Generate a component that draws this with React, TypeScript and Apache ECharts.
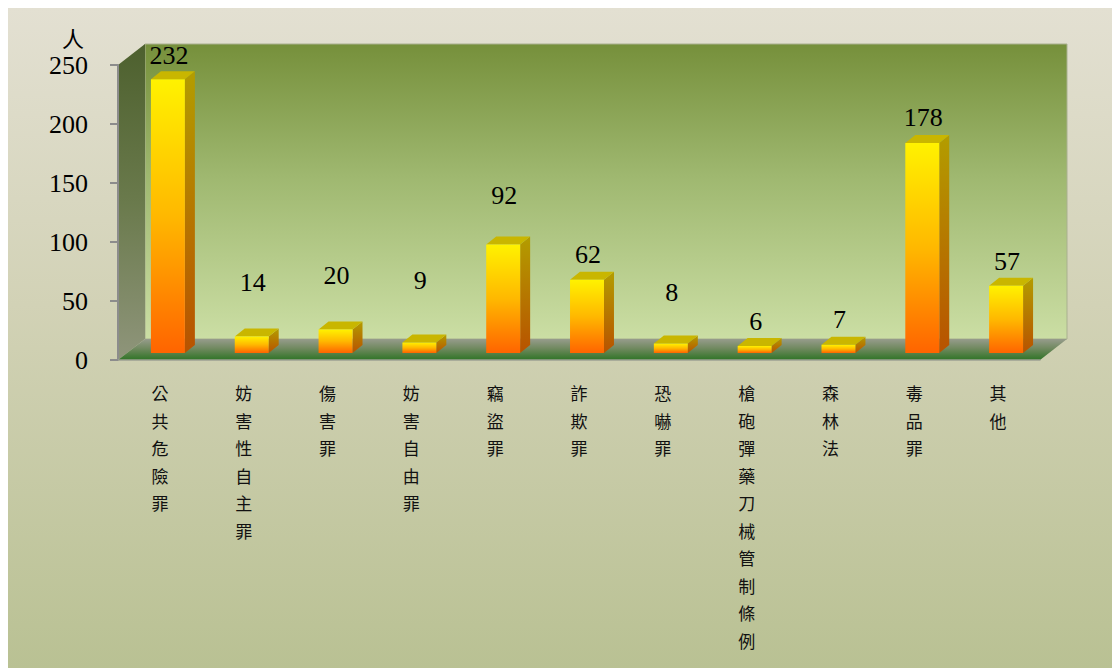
import React, { useEffect, useRef } from "react";
import * as echarts from "echarts";

// ---- data ----
const categories = [
  "公共危險罪",
  "妨害性自主罪",
  "傷害罪",
  "妨害自由罪",
  "竊盜罪",
  "詐欺罪",
  "恐嚇罪",
  "槍砲彈藥刀械管制條例",
  "森林法",
  "毒品罪",
  "其他",
];
const values = [232, 14, 20, 9, 92, 62, 8, 6, 7, 178, 57];
const yTicks = { min: 0, max: 250, interval: 50 };
const unitLabel = "人";

// ---- styling (label distance above each bar's top, px) ----
const labelGap = [24, 54, 54, 62, 49, 25, 51, 24, 25, 25, 24];

const DEPTH_X = 27;
const DEPTH_Y = -21;

export default function App() {
  const ref = useRef<HTMLDivElement>(null);

  useEffect(() => {
    document.documentElement.style.overflow = "hidden";
    document.body.style.overflow = "hidden";
    const chart = echarts.init(ref.current!, undefined, { renderer: "svg" });
    const G = echarts.graphic;

    const option: any = {
      animation: false,
      grid: { left: 110, right: 80, top: 57, bottom: 308, containLabel: false },
      graphic: [
        {
          type: "text",
          left: 54,
          top: 18,
          style: {
            text: unitLabel,
            fontSize: 22,
            fontFamily: "Noto Sans CJK TC",
            fill: "#000",
          },
        },
      ],
      xAxis: {
        type: "category",
        data: categories,
        z: 5,
        axisLine: { show: true, lineStyle: { color: "#9da093", width: 1.5 } },
        axisTick: { show: false },
        axisLabel: {
          interval: 0,
          margin: 19,
          color: "#111",
          fontSize: 17,
          lineHeight: 27.5,
          fontFamily: "Noto Sans CJK TC",
          formatter: (v: string) => v.split("").join("\n"),
        },
      },
      yAxis: {
        type: "value",
        min: yTicks.min,
        max: yTicks.max,
        interval: yTicks.interval,
        z: 5,
        splitLine: { show: false },
        axisLine: { show: true, lineStyle: { color: "#8c8c8c", width: 2 } },
        axisTick: { show: true, length: 8, lineStyle: { color: "#8c8c8c", width: 2 } },
        axisLabel: {
          margin: 30,
          color: "#000",
          fontSize: 26,
          fontFamily: "Liberation Serif, Times New Roman, serif",
        },
      },
      series: [
        {
          type: "custom",
          z: 1,
          silent: true,
          data: [[0, 0]],
          renderItem: (params: any) => {
            const cs = params.coordSys;
            const x = cs.x, y = cs.y, w = cs.width, h = cs.height;
            return {
              type: "group",
              children: [
                {
                  type: "rect",
                  shape: { x: x + DEPTH_X, y: y + DEPTH_Y, width: w, height: h },
                  style: {
                    fill: new G.LinearGradient(0, 0, 0, 1, [
                      { offset: 0, color: "#76903b" },
                      { offset: 0.45, color: "#9fb870" },
                      { offset: 1, color: "#cbdea4" },
                    ]),
                    stroke: "#a9b08f",
                    lineWidth: 1,
                  },
                },
                {
                  type: "polygon",
                  shape: {
                    points: [
                      [x, y],
                      [x + DEPTH_X, y + DEPTH_Y],
                      [x + DEPTH_X, y + h + DEPTH_Y],
                      [x, y + h],
                    ],
                  },
                  style: {
                    fill: new G.LinearGradient(0, 0, 0, 1, [
                      { offset: 0, color: "#4d602e" },
                      { offset: 0.5, color: "#6a7a4c" },
                      { offset: 1, color: "#8f957b" },
                    ]),
                  },
                },
                {
                  type: "polygon",
                  shape: {
                    points: [
                      [x, y + h],
                      [x + DEPTH_X, y + h + DEPTH_Y],
                      [x + w + DEPTH_X, y + h + DEPTH_Y],
                      [x + w, y + h],
                    ],
                  },
                  style: {
                    fill: new G.LinearGradient(0, 0, 0, 1, [
                      { offset: 0, color: "#979c8c" },
                      { offset: 0.45, color: "#70895f" },
                      { offset: 1, color: "#2f7426" },
                    ]),
                  },
                },
              ],
            };
          },
        },
        {
          type: "custom",
          z: 3,
          silent: true,
          data: values.map((v, i) => [i, v]),
          renderItem: (params: any, api: any) => {
            const idx = params.dataIndex;
            const cat = api.value(0);
            const v = api.value(1);
            const base = api.coord([cat, 0]);
            const top = api.coord([cat, v]);
            const band = api.size([1, 0])[0];
            const bw = band * 0.405;
            const cx = base[0] + 8;
            const x0 = cx - bw / 2;
            const x1 = cx + bw / 2;
            const yb = base[1] - 7;
            const yt = top[1] - 7;
            const dx = 10;
            const dy = -8;
            return {
              type: "group",
              children: [
                {
                  type: "polygon",
                  shape: {
                    points: [
                      [x1, yt],
                      [x1 + dx, yt + dy],
                      [x1 + dx, yb + dy],
                      [x1, yb],
                    ],
                  },
                  style: {
                    fill: new G.LinearGradient(0, 0, 0, 1, [
                      { offset: 0, color: "#b39d00" },
                      { offset: 1, color: "#b85200" },
                    ]),
                  },
                },
                {
                  type: "polygon",
                  shape: {
                    points: [
                      [x0, yt],
                      [x0 + dx, yt + dy],
                      [x1 + dx, yt + dy],
                      [x1, yt],
                    ],
                  },
                  style: { fill: "#c9b600" },
                },
                {
                  type: "rect",
                  shape: { x: x0, y: yt, width: bw, height: yb - yt },
                  style: {
                    fill: new G.LinearGradient(0, 0, 0, 1, [
                      { offset: 0, color: "#fff200" },
                      { offset: 0.5, color: "#ffb800" },
                      { offset: 1, color: "#ff6400" },
                    ]),
                  },
                },
                {
                  type: "text",
                  x: cx + 1,
                  y: yt - labelGap[idx],
                  style: {
                    text: String(v),
                    fontSize: 26,
                    fontFamily: "Liberation Serif, Times New Roman, serif",
                    fill: "#000",
                    align: "center",
                    verticalAlign: "middle",
                  },
                },
              ],
            };
          },
        },
      ],
    };

    chart.setOption(option);
    return () => chart.dispose();
  }, []);

  return (
    <div
      ref={ref}
      style={{
        width: 1112,
        height: 660,
        background: "linear-gradient(180deg, #e3e0d2 0%, #d2d2b6 45%, #b9c193 100%)",
      }}
    />
  );
}
